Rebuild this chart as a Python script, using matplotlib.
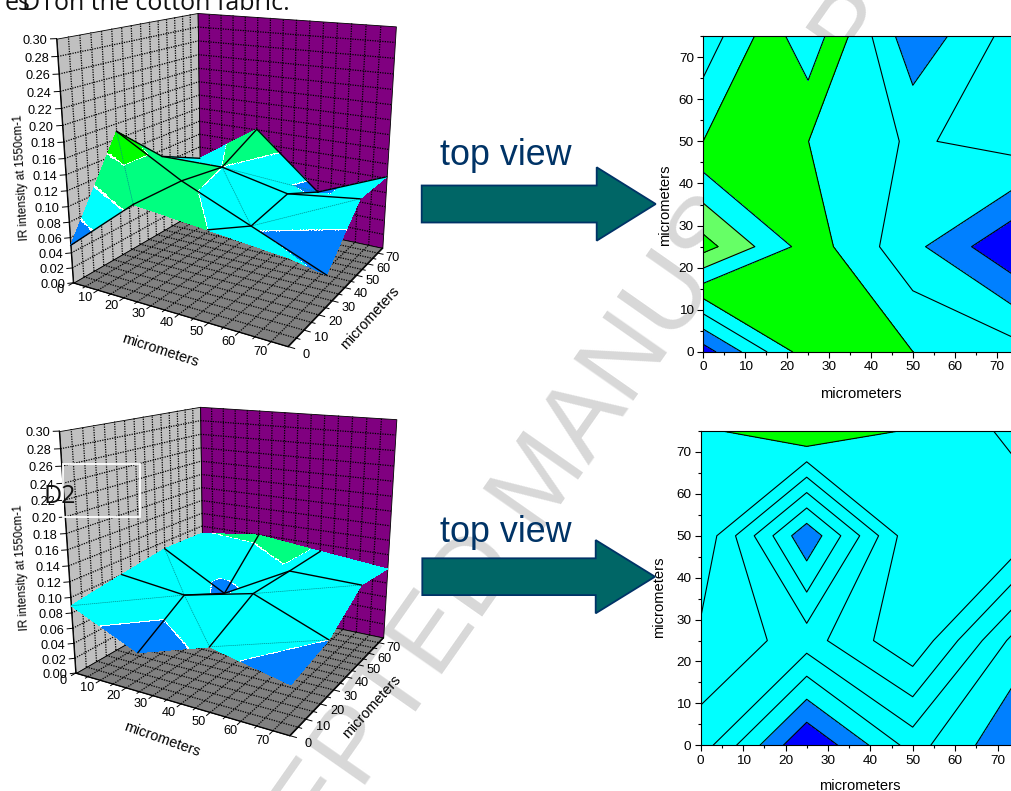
import numpy as np
import matplotlib
matplotlib.use('Agg')
import matplotlib.pyplot as plt
import matplotlib.tri as mtri
from matplotlib.colors import to_rgba
from matplotlib.patches import Polygon, Rectangle
from matplotlib.ticker import MultipleLocator
from mpl_toolkits.mplot3d.art3d import Poly3DCollection

plt.rcParams['font.family'] = ['Liberation Sans', 'DejaVu Sans']

# measurement grid, micrometers
grid = [0, 25, 50, 75]

# IR intensity at 1550 cm-1, rows are y = 0, 25, 50, 75
d1_values = [[0.0500, 0.1213, 0.1110, 0.1005],
             [0.1701, 0.1205, 0.0809, 0.0413],
             [0.1110, 0.1110, 0.0909, 0.1022],
             [0.0822, 0.1409, 0.0631, 0.1022]]
d2_values = [[0.0894, 0.0500, 0.0796, 0.0590],
             [0.1001, 0.0896, 0.1096, 0.0718],
             [0.1097, 0.0604, 0.1092, 0.1074],
             [0.1087, 0.1196, 0.1096, 0.0999]]

# which way each cell of the 3d surface is split, 1 is "/", 0 is "\"
d1_diagonals = [[0, 0, 0], [0, 0, 1], [0, 1, 0]]
d2_diagonals = [[1, 0, 1], [0, 0, 1], [0, 0, 0]]

# contour levels and band colours of the top views
d1_levels = [0.0587, 0.0761, 0.0935, 0.1109, 0.1283, 0.1457, 0.1631]
d1_colors = ['#0000ff', '#0080ff', '#00ffff', '#00ffff', '#00ff00', '#00ffff', '#66ff66', '#00ff00']
d2_levels = [0.0587, 0.0674, 0.0761, 0.0848, 0.0935, 0.1022, 0.1109]
d2_colors = ['#0000ff', '#0080ff', '#00ffff', '#00ffff', '#00ffff', '#00ffff', '#00ffff', '#00ff00']

# bands of the 3d surfaces
d1_levels_3d = [0.0761, 0.1109, 0.1457]
d1_colors_3d = ['#0080ff', '#00ffff', '#00ff80', '#00ff00']
d2_levels_3d = [0.0715, 0.1109]
d2_colors_3d = ['#0080ff', '#00ffff', '#00ff80']

# thin lines seen on the surfaces: ((x, y), (x, y))
d1_black = [((0, 0), (25, 0)), ((0, 25), (0, 50)), ((0, 50), (0, 75)), ((25, 75), (50, 75)), ((50, 75), (75, 75))]
d2_black = []
d1_hair = [((50, 25), (75, 50)), ((25, 50), (50, 25)), ((25, 50), (50, 75)), ((0, 25), (25, 0))]
d2_hair = [((25, 25), (50, 0)), ((50, 25), (75, 50)), ((0, 0), (25, 25)), ((50, 0), (75, 25)), ((0, 50), (25, 25))]

xy_ticks = list(range(0, 80, 10))
z_ticks = [i / 100 for i in range(0, 32, 2)]

W, H = 1011, 791
fig = plt.figure(figsize=(W / 100, H / 100), dpi=100)


def px_rect(left, top, width, height):
    return [left / W, 1 - (top + height) / H, width / W, height / H]


def surface_3d(values, diagonals, levels, colors, black, hair, view, scale, tx, ty):
    ax = fig.add_subplot(projection='3d', computed_zorder=False)
    ax.set_zorder(2)
    ax.set_xlim(0, 75)
    ax.set_ylim(0, 75)
    ax.set_zlim(0, 0.3)
    ax.view_init(view[0], view[1])
    ax.set_proj_type('persp', focal_length=view[2])
    ax.set_box_aspect((1, view[3], view[4]))
    vl = ax.viewLim
    size = scale * (vl.x1 - vl.x0)
    ax.set_position(px_rect(tx + scale * vl.x0, ty - scale * vl.y1, size, size))
    ax.set_axis_off()
    ax.patch.set_visible(False)

    # walls and floor
    zt = 0.3
    ax.add_collection3d(Poly3DCollection([[(0, 0, 0), (0, 75, 0), (0, 75, zt), (0, 0, zt)]], facecolor='#c0c0c0',
                                         edgecolor='k', linewidth=0.6, zorder=1))
    ax.add_collection3d(Poly3DCollection([[(0, 75, 0), (75, 75, 0), (75, 75, zt), (0, 75, zt)]], facecolor='#800080',
                                         edgecolor='k', linewidth=0.6, zorder=1))
    ax.add_collection3d(Poly3DCollection([[(0, 0, 0), (75, 0, 0), (75, 75, 0), (0, 75, 0)]], facecolor='#808080',
                                         edgecolor='k', linewidth=0.6, zorder=1))
    dot = dict(color='k', lw=0.9, ls=(0, (1, 1)), zorder=2)
    for t in range(5, 75, 5):
        ax.plot([t, t], [0, 75], [0, 0], **dot)
        ax.plot([0, 75], [t, t], [0, 0], **dot)
        ax.plot([0, 0], [t, t], [0, zt], **dot)
        ax.plot([t, t], [75, 75], [0, zt], **dot)
    for t in z_ticks[1:-1]:
        ax.plot([0, 0], [0, 75], [t, t], **dot)
        ax.plot([0, 75], [75, 75], [t, t], **dot)

    # axis ticks and labels
    for t in range(0, 75, 5):
        ln = 2.0 if t % 10 == 0 else 1.2
        ax.plot([t, t], [0, -ln], [0, 0], color='k', lw=0.7, zorder=2)
        ax.plot([75, 75 + ln], [t, t], [0, 0], color='k', lw=0.7, zorder=2)
    for t in z_ticks:
        ax.plot([0, -1.2], [0, -1.2], [t, t], color='k', lw=0.7, zorder=2)
        ax.text(-1.8, -1.8, t - 0.002, f'{t:.2f}', ha='right', va='center', fontsize=9.2, zorder=6)
    for t in xy_ticks:
        ax.text(t, -6, 0, str(t), ha='center', va='center', fontsize=9.2, zorder=6)
        ax.text(81, t - 1.5, 0, str(t), ha='center', va='center', fontsize=9.2, zorder=6)
    ax.plot([0, 75], [0, 0], [0, 0], color='k', lw=0.8, zorder=2)
    ax.plot([75, 75], [0, 75], [0, 0], color='k', lw=0.8, zorder=2)
    ax.plot([0, 0], [0, 0], [0, zt], color='k', lw=0.8, zorder=2)

    # surface, split in flat triangles like the original
    xg, yg = np.meshgrid(grid, grid)
    z = np.array(values)
    tris = []
    for j in range(3):
        for i in range(3):
            a, b, c, d = j * 4 + i, j * 4 + i + 1, (j + 1) * 4 + i + 1, (j + 1) * 4 + i
            tris += [[a, b, c], [a, c, d]] if diagonals[j][i] else [[a, b, d], [b, c, d]]
    tri = mtri.Triangulation(xg.ravel(), yg.ravel(), np.array(tris))
    interp = mtri.LinearTriInterpolator(tri, z.ravel())
    fine = np.linspace(0, 75, 301)
    xf, yf = np.meshgrid(fine, fine)
    zf = np.ma.filled(interp(xf, yf), np.nan)
    band = np.digitize(zf, levels)
    corners = np.stack([band[:-1, :-1], band[1:, :-1], band[:-1, 1:], band[1:, 1:]])
    rgba = np.array([to_rgba(c) for c in colors])
    faces = rgba[corners[0]]
    faces[corners.min(axis=0) != corners.max(axis=0)] = to_rgba('white')
    ax.plot_surface(xf, yf, zf, facecolors=faces, rstride=1, cstride=1, shade=False,
                    linewidth=0, antialiased=False, zorder=3)

    def at(p):
        return z[grid.index(p[1]), grid.index(p[0])]

    for p, q in hair:
        ax.plot([p[0], q[0]], [p[1], q[1]], [at(p), at(q)], color='#009090', lw=0.5, ls=(0, (2, 1)), zorder=4)
    for k in (1, 2):
        ax.plot(grid, [grid[k]] * 4, z[k], color='k', lw=1.0, zorder=5)
        ax.plot([grid[k]] * 4, grid, z[:, k], color='k', lw=1.0, zorder=5)
    for p, q in black:
        ax.plot([p[0], q[0]], [p[1], q[1]], [at(p), at(q)], color='k', lw=1.0, zorder=5)
    return ax


def top_view(values, levels, colors, rect, xlabel_y, ylabel_pos):
    ax = fig.add_axes(px_rect(*rect), zorder=3)
    ax.contourf(grid, grid, np.array(values), levels=[0] + levels + [0.5], colors=colors)
    ax.contour(grid, grid, np.array(values), levels=levels, colors='k', linewidths=0.8)
    ax.set_xlim(0, 75)
    ax.set_ylim(0, 75)
    ax.set_xticks(xy_ticks)
    ax.set_yticks(xy_ticks)
    ax.xaxis.set_minor_locator(MultipleLocator(5))
    ax.yaxis.set_minor_locator(MultipleLocator(5))
    ax.tick_params(which='major', direction='out', length=4.3, width=0.8, labelsize=9.7, pad=2.5)
    ax.tick_params(which='minor', direction='out', length=2.2, width=0.8)
    ax.set_xlabel('micrometers', fontsize=10.6)
    ax.set_ylabel('micrometers', fontsize=10.6)
    ax.xaxis.set_label_coords(0.5, xlabel_y)
    ax.yaxis.set_label_coords(*ylabel_pos)
    return ax


# page behind the charts
back = fig.add_axes([0, 0, 1, 1], zorder=0)
back.set_xlim(0, W)
back.set_ylim(H, 0)
back.axis('off')
back.text(543, 483, 'ACCEPTED MANUSCRIPT', rotation=55, rotation_mode='anchor', ha='center', va='center',
          fontsize=76, color='#d8d8d8')

surface_3d(d1_values, d1_diagonals, d1_levels_3d, d1_colors_3d, d1_black, d1_hair,
           (16.92, -60.0, 0.351, 0.989, 1.022), 2162.7, 235.7, 153.7)
surface_3d(d2_values, d2_diagonals, d2_levels_3d, d2_colors_3d, d2_black, d2_hair,
           (16.54, -60.2, 0.347, 0.999, 1.017), 2146.9, 237.7, 544.8)

top_view(d1_values, d1_levels, d1_colors, (703.3, 36, 314.3, 316), -0.11, (-0.10, 0.465))
top_view(d2_values, d2_levels, d2_colors, (700.7, 431, 318, 314.3), -0.108, (-0.108, 0.47))

# arrows, captions and pasted labels on top
front = fig.add_axes([0, 0, 1, 1], zorder=5)
front.set_xlim(0, W)
front.set_ylim(H, 0)
front.axis('off')

for tail, tip, base, mid, half, head in [(421.7, 655.7, 596.7, 204, 18.5, 36.7), (422.3, 655, 595.7, 576.7, 18.4, 36.6)]:
    front.add_patch(Polygon([(tail, mid - half), (base, mid - half), (base, mid - head), (tip, mid),
                             (base, mid + head), (base, mid + half), (tail, mid + half)],
                            facecolor='#006666', edgecolor='#003366', linewidth=1.3))
front.text(440, 165, 'top view', fontsize=25.8, color='#003366', va='baseline')
front.text(440.5, 541.7, 'top view', fontsize=25.8, color='#003366', va='baseline')

for cy, yc, ry, my, mr in [(177, 350.7, -18, 318, 47.5), (567, 739, -19.4, 707, 48)]:
    front.text(22, cy, 'IR intensity at 1550cm-1', rotation=93, ha='center', va='center', fontsize=8.4)
    front.text(160 + (cy > 300) * 2, yc, 'micrometers', rotation=ry, ha='center', va='center', fontsize=10.4)
    front.text(370 + (cy > 300) * 2, my, 'micrometers', rotation=mr, ha='center', va='center', fontsize=10.4)

front.text(5, 10, 'es', family='Open Sans', fontsize=18, va='baseline', color='#111111')
front.text(290, 10, 'on the cotton fabric.', family='Open Sans', fontsize=18, ha='right', va='baseline', color='#111111')
front.text(21, 10, 'D1', family='Open Sans', fontsize=18, va='baseline', color='#111111')
front.add_patch(Rectangle((63, 464), 77, 53, fill=False, edgecolor='white', linewidth=1.3))
front.text(43, 503, 'D2', family='Open Sans', fontsize=18, va='baseline', color='#111111')

fig.savefig('out.png', dpi=100)
